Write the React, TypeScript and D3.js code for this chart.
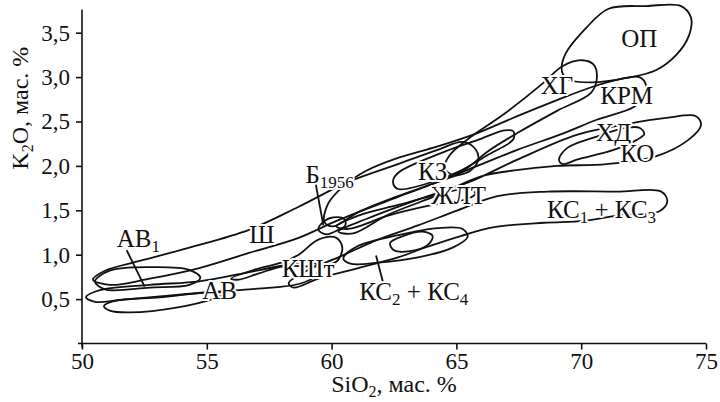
import { useEffect, useRef } from 'react';
import * as d3 from 'd3';

type Pt = [number, number]; // [SiO2, K2O], мас. %

// outlines of the fields
const fieldAB1: Pt[] = [[50.52, 0.70], [51.11, 0.82], [52.71, 0.86], [54.30, 0.83], [54.74, 0.74], [54.30, 0.66], [52.71, 0.63], [50.92, 0.61]];
const fieldSh: Pt[] = [[50.44, 0.72], [50.92, 0.82], [52.31, 0.93], [54.30, 1.08], [56.69, 1.28], [58.68, 1.54], [60.67, 1.82], [62.66, 2.02], [64.25, 2.18], [65.25, 2.27], [65.76, 2.19], [65.88, 2.07], [65.53, 1.94], [64.85, 1.88], [62.66, 1.65], [60.27, 1.39], [58.68, 1.19], [56.69, 1.02], [54.70, 0.85], [52.71, 0.73], [51.11, 0.66]];
const fieldAB: Pt[] = [[50.16, 0.52], [50.72, 0.60], [52.71, 0.66], [54.70, 0.70], [56.29, 0.78], [57.88, 0.87], [59.08, 0.92], [59.47, 0.87], [59.35, 0.76], [58.68, 0.67], [56.69, 0.61], [55.10, 0.58], [53.11, 0.53], [51.51, 0.49], [50.52, 0.47]];
const fieldAB2: Pt[] = [[50.88, 0.42], [51.31, 0.48], [53.11, 0.52], [54.90, 0.57], [55.81, 0.57], [55.22, 0.50], [53.90, 0.41], [51.91, 0.35], [51.11, 0.37]];
const fieldKSht: Pt[] = [[55.97, 0.73], [56.89, 0.83], [58.08, 0.92], [58.68, 1.00], [59.47, 1.17], [60.19, 1.19], [60.43, 1.08], [60.19, 0.92], [59.28, 0.87], [58.08, 0.87], [57.09, 0.79], [56.29, 0.72]];
const fieldB1956: Pt[] = [[59.47, 1.28], [59.67, 1.37], [60.07, 1.42], [60.51, 1.40], [60.55, 1.33], [60.27, 1.28], [59.79, 1.23]];
const fieldKZ: Pt[] = [[62.46, 1.82], [62.66, 1.92], [64.53, 2.16], [65.84, 2.29], [66.92, 2.40], [67.28, 2.39], [67.28, 2.30], [66.24, 2.12], [65.05, 1.93], [64.25, 1.84], [62.66, 1.74]];
const fieldKhG: Pt[] = [[64.53, 1.98], [64.73, 2.12], [65.64, 2.34], [66.84, 2.57], [68.51, 2.94], [69.23, 3.12], [70.02, 3.19], [70.50, 3.14], [70.62, 2.97], [70.38, 2.82], [69.03, 2.62], [67.44, 2.37], [66.24, 2.16], [65.45, 1.98], [64.85, 1.90]];
const fieldOP: Pt[] = [[69.23, 3.06], [69.35, 3.25], [70.22, 3.56], [71.10, 3.77], [72.61, 3.80], [74.00, 3.80], [74.40, 3.67], [74.32, 3.47], [73.81, 3.25], [73.01, 3.08], [71.82, 2.99], [70.42, 2.94], [69.51, 2.97]];
const fieldKRM: Pt[] = [[59.71, 1.37], [59.87, 1.58], [60.47, 1.77], [61.35, 1.94], [62.66, 2.09], [64.25, 2.22], [65.84, 2.37], [67.44, 2.56], [69.03, 2.74], [70.34, 2.88], [71.42, 2.97], [72.33, 3.00], [72.61, 2.90], [72.53, 2.78], [72.09, 2.66], [70.62, 2.52], [69.31, 2.37], [67.44, 2.18], [65.84, 2.00], [64.25, 1.82], [62.66, 1.66], [61.07, 1.48], [60.07, 1.32]];
const fieldKO: Pt[] = [[60.27, 1.26], [61.46, 1.41], [63.46, 1.62], [65.45, 1.81], [67.44, 2.07], [69.82, 2.35], [71.82, 2.47], [73.41, 2.54], [74.60, 2.56], [74.80, 2.46], [74.28, 2.29], [73.01, 2.11], [71.02, 2.02], [69.03, 2.00], [67.32, 1.95], [65.96, 1.88], [64.25, 1.67], [62.26, 1.45], [60.87, 1.24]];
const fieldKhD: Pt[] = [[69.11, 2.07], [69.43, 2.20], [70.62, 2.33], [71.82, 2.43], [72.33, 2.43], [72.53, 2.36], [72.21, 2.29], [71.30, 2.18], [69.82, 2.07], [69.27, 2.02]];
const fieldZhLT: Pt[] = [[60.19, 1.32], [61.07, 1.44], [62.66, 1.56], [64.25, 1.68], [65.45, 1.74], [65.76, 1.69], [65.45, 1.63], [63.85, 1.55], [62.26, 1.44], [60.67, 1.29]];
const fieldKS13: Pt[] = [[58.28, 0.68], [59.08, 0.83], [60.27, 0.97], [61.86, 1.17], [63.46, 1.33], [65.05, 1.50], [66.64, 1.66], [68.63, 1.71], [71.42, 1.71], [73.21, 1.71], [73.45, 1.60], [73.13, 1.49], [71.42, 1.44], [70.10, 1.38], [68.51, 1.36], [66.52, 1.31], [65.17, 1.21], [63.85, 1.09], [62.66, 0.97], [61.07, 0.85], [59.47, 0.73], [58.48, 0.63]];
const fieldKS24a: Pt[] = [[60.47, 0.96], [61.07, 1.10], [62.66, 1.22], [64.25, 1.30], [65.25, 1.29], [65.45, 1.20], [64.85, 1.08], [63.46, 0.97], [61.86, 0.91], [60.75, 0.90]];
const fieldKS24b: Pt[] = [[62.34, 1.13], [62.86, 1.21], [63.65, 1.26], [64.05, 1.21], [63.85, 1.11], [63.14, 1.04], [62.50, 1.05]];

const fields = [fieldAB1, fieldSh, fieldAB, fieldAB2, fieldKSht, fieldB1956, fieldKZ, fieldKhG, fieldOP, fieldKRM, fieldKO, fieldKhD, fieldZhLT, fieldKS13, fieldKS24a, fieldKS24b];

// leader lines from labels to fields
const leaders: Pt[][] = [
    [[51.79, 1.05], [52.51, 0.64]],
    [[59.35, 1.82], [59.67, 1.33]],
    [[61.78, 0.99], [62.06, 0.69]],
];

// label text parts: [text, isSubscript]
const labels: { parts: [string, boolean][]; at: Pt; anchor: string }[] = [
    { parts: [['ОП', false]], at: [72.33, 3.34], anchor: 'middle' },
    { parts: [['ХГ', false]], at: [69.03, 2.81], anchor: 'middle' },
    { parts: [['КРМ', false]], at: [71.82, 2.70], anchor: 'middle' },
    { parts: [['ХД', false]], at: [71.30, 2.28], anchor: 'middle' },
    { parts: [['КО', false]], at: [72.25, 2.04], anchor: 'middle' },
    { parts: [['КЗ', false]], at: [64.05, 1.84], anchor: 'middle' },
    { parts: [['Б', false], ['1956', true]], at: [58.95, 1.81], anchor: 'start' },
    { parts: [['ЖЛТ', false]], at: [65.09, 1.57], anchor: 'middle' },
    { parts: [['КС', false], ['1', true], [' + КС', false], ['3', true]], at: [68.63, 1.41], anchor: 'start' },
    { parts: [['Ш', false]], at: [57.21, 1.13], anchor: 'middle' },
    { parts: [['АВ', false], ['1', true]], at: [51.39, 1.09], anchor: 'start' },
    { parts: [['КШт', false]], at: [58.0, 0.75], anchor: 'start' },
    { parts: [['АВ', false]], at: [54.82, 0.50], anchor: 'start' },
    { parts: [['КС', false], ['2', true], [' + КС', false], ['4', true]], at: [61.11, 0.49], anchor: 'start' },
];

const xTicks = [50, 55, 60, 65, 70, 75];
const yTicks = [0.5, 1.0, 1.5, 2.0, 2.5, 3.0, 3.5];

const FONT = '"Liberation Serif", "Times New Roman", serif';

const App = () => {
    const xAxisRef = useRef(null);
    const yAxisRef = useRef(null);

    const x = d3.scaleLinear().domain([50, 75]).range([82, 706]);
    const y = d3.scaleLinear().domain([0, 3.5]).range([343.5, 32.7]);

    const outline = d3.line<Pt>()
        .x(d => x(d[0]))
        .y(d => y(d[1]))
        .curve(d3.curveCatmullRomClosed.alpha(0.5));
    const straight = d3.line<Pt>().x(d => x(d[0])).y(d => y(d[1]));

    useEffect(() => {
        const fmt = (d: d3.NumberValue) => d3.format('.1f')(+d).replace('.', ',');
        const gx = d3.select(xAxisRef.current);
        gx.call(d3.axisBottom(x).tickValues(xTicks).tickSize(6).tickPadding(3).tickFormat(d3.format('d')) as any);
        gx.select('.domain').remove();
        const gy = d3.select(yAxisRef.current);
        gy.call(d3.axisLeft(y).tickValues(yTicks).tickSize(6).tickPadding(6).tickFormat(fmt) as any);
        gy.select('.domain').remove();
        [gx, gy].forEach(g => {
            g.attr('font-family', FONT).attr('font-size', 23);
            g.selectAll('line').attr('stroke', '#111').attr('stroke-width', 1.6);
            g.selectAll('text').attr('fill', '#111');
        });
    }, []);

    return (
        <div style={{ position: 'fixed', left: 0, top: 0 }}>
            <svg width={720} height={402} style={{ display: 'block', background: '#fff' }}>
                <g fill="none" stroke="#111" strokeWidth={1.8}>
                    {fields.map((f, i) => <path key={i} d={outline(f) || ''} />)}
                    {leaders.map((l, i) => <path key={'l' + i} d={straight(l) || ''} />)}
                </g>
                <g fontFamily={FONT} fontSize={25} fill="#111" stroke="#fff" strokeWidth={4}
                   style={{ paintOrder: 'stroke' }} strokeLinejoin="round">
                    {labels.map((lb, i) => {
                        let shift = 0;
                        return (
                            <text key={i} x={x(lb.at[0])} y={y(lb.at[1])} textAnchor={lb.anchor}>
                                {lb.parts.map(([t, sub], j) => {
                                    const dy = (sub ? 5 : 0) - shift;
                                    shift = sub ? 5 : 0;
                                    return <tspan key={j} dy={dy} fontSize={sub ? 17 : 25}>{t}</tspan>;
                                })}
                            </text>
                        );
                    })}
                </g>
                <g stroke="#111" strokeWidth={1.6}>
                    <line x1={x(50) - 4} x2={x(75)} y1={y(0)} y2={y(0)} />
                    <line x1={x(50)} x2={x(50)} y1={y(0) + 4} y2={y(3.76)} />
                </g>
                <g ref={xAxisRef} transform={`translate(0,${y(0)})`} />
                <g ref={yAxisRef} transform={`translate(${x(50)},0)`} />
                <text x={(x(50) + x(75)) / 2} y={392} textAnchor="middle" fontFamily={FONT} fontSize={24} fill="#111">
                    SiO<tspan dy={5} fontSize={16}>2</tspan><tspan dy={-5}>, мас. %</tspan>
                </text>
                <text transform={`translate(28,${y(2.65)}) rotate(-90)`} textAnchor="middle" fontFamily={FONT} fontSize={24} fill="#111">
                    K<tspan dy={5} fontSize={16}>2</tspan><tspan dy={-5}>O, мас. %</tspan>
                </text>
            </svg>
        </div>
    );
};

export default App;
